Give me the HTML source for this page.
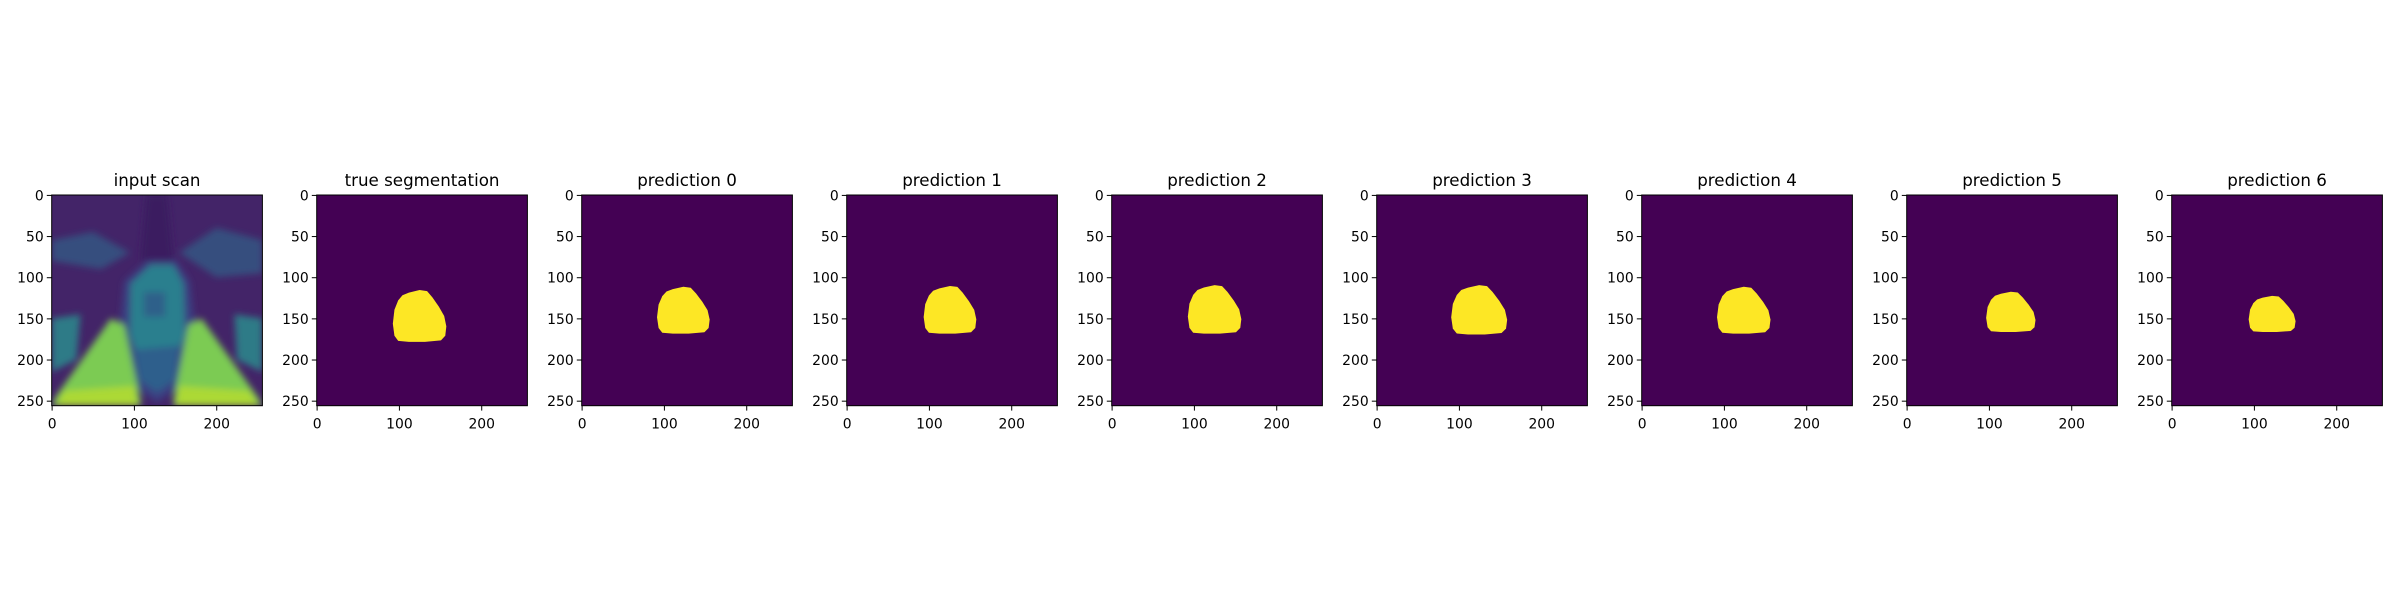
<!DOCTYPE html>
<html><head><meta charset="utf-8"><style>
html,body{margin:0;padding:0;background:#fff;}
svg{display:block;font-family:"DejaVu Sans","Liberation Sans",sans-serif;}
</style></head><body>
<svg id="fig" width="2400" height="600" viewBox="0 0 2400 600" xmlns="http://www.w3.org/2000/svg">
<defs>
<filter id="blur" x="-0.2" y="-0.2" width="1.4" height="1.4"><feGaussianBlur stdDeviation="3.5"/></filter>
<clipPath id="clip0"><rect x="51.7" y="195" width="210.7" height="210.7"/></clipPath>
</defs>
</svg>
<script>
const titles = ["input scan","true segmentation","prediction 0","prediction 1","prediction 2","prediction 3","prediction 4","prediction 5","prediction 6"];
// blob bounding boxes in data coords [x0, x1, y0, y1]; null for the scan
const blobX0 = [null, 92, 91, 93, 92, 90, 91, 96, 93];
const blobX1 = [null, 157, 155, 157, 157, 158, 156, 156, 150];
const blobY0 = [null, 115, 111, 110, 109, 109, 111, 117, 122];
const blobY1 = [null, 178, 168, 168, 168, 169, 168, 166, 166];
const yTicks = [0, 50, 100, 150, 200, 250];
const xTicks = [0, 100, 200];

const NS = "http://www.w3.org/2000/svg";
const svg = document.getElementById('fig');
const AX_L0 = 51.7, AX_STEP = 265, AX_T = 195, AX_S = 210.7, N = 256;
const k = AX_S / N;
function px(i, v){ return AX_L0 + i*AX_STEP + (v + 0.5)*k; }
function py(v){ return AX_T + (v + 0.5)*k; }
function mk(tag, attrs, parent){ const e=document.createElementNS(NS,tag); for(const a in attrs) e.setAttribute(a, attrs[a]); (parent||svg).appendChild(e); return e; }

const shape = [[0.3,0.05],[0.5,0],[0.64,0.02],[0.74,0.14],[0.86,0.32],[0.96,0.5],[1,0.7],[0.98,0.88],[0.9,0.97],[0.6,1],[0.3,1],[0.1,0.98],[0.03,0.88],[0,0.65],[0.03,0.38],[0.1,0.2],[0.18,0.1]];

for (let i=0;i<titles.length;i++){
  const g = mk('g', {});
  
  
  const L = AX_L0 + i*AX_STEP;
  if (i===0){
    const sc = mk('g', {'clip-path':'url(#clip0)'}, g);
    
    
    mk('rect',{x:L,y:AX_T,width:AX_S,height:AX_S,fill:'#432468'},sc);
    const bl = mk('g',{filter:'url(#blur)'},sc);
    const X=v=>L+v*k, Y=v=>AX_T+v*k;
    const poly=(pts,fill,op)=>mk('polygon',{points:pts.map(p=>X(p[0])+','+Y(p[1])).join(' '),fill:fill,'fill-opacity':op||1},bl);
    poly([[0,55],[50,45],[95,70],[60,90],[0,80]],'#2f6b8e',0.6);
    poly([[256,55],[200,40],[155,70],[200,100],[256,95]],'#2f6b8e',0.6);
    poly([[0,150],[35,145],[30,200],[0,215]],'#2a8a8c',0.85);
    poly([[256,150],[222,145],[225,200],[256,215]],'#2a8a8c',0.85);
    poly([[118,78],[150,78],[168,105],[175,170],[160,230],[128,252],[96,230],[82,170],[88,105]],'#3a3f82',1);
    poly([[120,85],[148,85],[160,108],[162,170],[150,200],[106,200],[95,170],[96,108]],'#2a7f8e',1);
    poly([[72,150],[88,158],[108,250],[108,256],[0,256],[5,245]],'#7ccb52',1);
    poly([[182,150],[166,158],[148,250],[148,256],[256,256],[250,245]],'#7ccb52',1);
    poly([[15,238],[100,232],[105,256],[5,256]],'#b5dc30',0.85);
    poly([[155,232],[240,238],[252,256],[150,256]],'#b5dc30',0.85);
    poly([[100,188],[155,183],[150,225],[128,240],[106,225]],'#2f5f8c',1);
    poly([[112,118],[138,118],[138,148],[112,148]],'#2f5a8a',0.8);
    poly([[115,0],[140,0],[148,80],[108,80]],'#3a1a60',1);
  } else {
    const bg = mk('rect',{x:L,y:AX_T,width:AX_S,height:AX_S,fill:'#440154'},g);
    
    
    const x0=blobX0[i],x1=blobX1[i],y0=blobY0[i],y1=blobY1[i];
    const pts = shape.map(p=>px(i,x0+p[0]*(x1-x0))+','+py(y0+p[1]*(y1-y0))).join(' ');
    const b = mk('polygon',{points:pts,fill:'#fde725'},g);
    
    
  }
  const fr = mk('rect',{x:L,y:AX_T,width:AX_S,height:AX_S,fill:'none',stroke:'#000','stroke-width':1},g);
  
  
  const t = mk('text',{x:L+AX_S/2,y:AX_T-9,'text-anchor':'middle','font-size':'16.7px',fill:'#000'},g);
  t.textContent = titles[i];
  
  
  yTicks.forEach(v=>{
    const y=py(v);
    mk('line',{x1:L-4.9,x2:L,y1:y,y2:y,stroke:'#000','stroke-width':1},g);
    const tl=mk('text',{x:L-8,y:y+5,'text-anchor':'end','font-size':'13.9px',fill:'#000'},g);
    tl.textContent=v;
    
    
  });
  xTicks.forEach(v=>{
    const x=px(i,v);
    mk('line',{x1:x,x2:x,y1:AX_T+AX_S,y2:AX_T+AX_S+4.9,stroke:'#000','stroke-width':1},g);
    const tl=mk('text',{x:x,y:AX_T+AX_S+23,'text-anchor':'middle','font-size':'13.9px',fill:'#000'},g);
    tl.textContent=v;
    
    
  });
}
</script>
</body></html>
